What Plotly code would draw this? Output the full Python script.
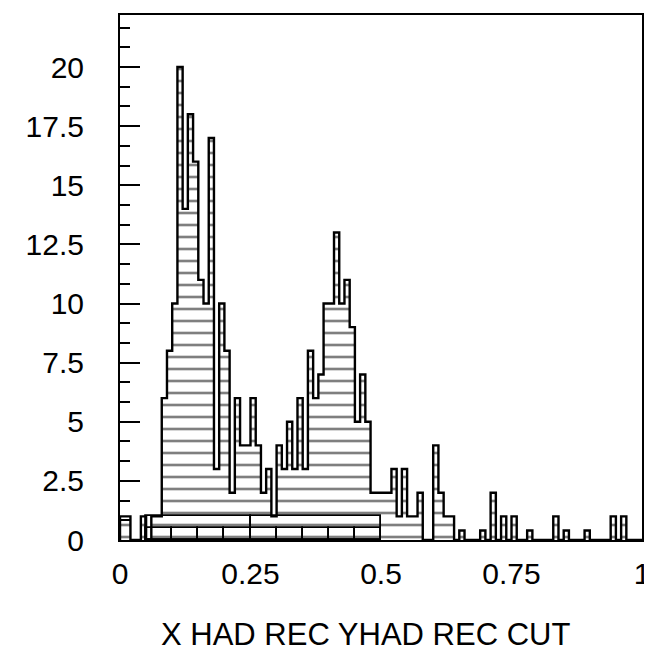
import plotly.graph_objects as go

# ---- data ----
bin_width = 0.01
bin_left = [i / 100 for i in range(100)]          # 100 bins on [0, 1]
counts = [
    1, 1, 0, 0, 1, 0, 1, 1, 6, 8,
    10, 20, 14, 18, 16, 11, 10, 17, 3, 10,
    8, 2, 6, 4, 4, 6, 4, 2, 3, 1,
    4, 3, 5, 3, 6, 3, 8, 6, 7, 10,
    10, 13, 10, 11, 9, 5, 7, 5, 2, 2,
    2, 2, 3, 1, 3, 1, 1, 2, 0, 0,
    4, 2, 1, 1, 0, 0.4, 0, 0, 0, 0.4,
    0, 2, 0, 1, 0, 1, 0, 0, 0.4, 0,
    0, 0, 0, 1, 0, 0.4, 0, 0, 0, 0.4,
    0, 0, 0, 0, 1, 0, 1, 0, 0, 0,
]

# coarse overlay boxes at the bottom
coarse_edges = [0.05, 0.10, 0.15, 0.20, 0.25, 0.30, 0.35, 0.40, 0.45, 0.50]
coarse_counts = [0.5, 0.5, 0.5, 0.5, 0.5, 0.5, 0.5, 0.5, 0.5]
wide_edges = [0.05, 0.25, 0.50]
wide_counts = [1, 1]

x_tickvals = [0, 0.25, 0.5, 0.75, 1]
x_ticktext = ["0", "0.25", "0.5", "0.75", "1"]
y_tickvals = [0, 2.5, 5, 7.5, 10, 12.5, 15, 17.5, 20]
y_ticktext = ["0", "2.5", "5", "7.5", "10", "12.5", "15", "17.5", "20"]
x_title = "X HAD REC YHAD REC CUT"

FONT = "Liberation Sans"

fig = go.Figure()

# coarse boxes (outlines only)
for edges, vals in ((coarse_edges, coarse_counts), (wide_edges, wide_counts)):
    mids = [(a + b) / 2 for a, b in zip(edges[:-1], edges[1:])]
    wids = [b - a for a, b in zip(edges[:-1], edges[1:])]
    fig.add_trace(go.Bar(
        x=mids, y=vals, width=wids,
        marker=dict(color="rgba(0,0,0,0)", line=dict(color="black", width=1.8)),
        showlegend=False, hoverinfo="skip",
    ))

# fine histogram: hatched step outline
xs = [bin_left[0]] + bin_left + [bin_left[-1] + bin_width]
ys = [0] + counts + [0]
fig.add_trace(go.Scatter(
    x=xs, y=ys, mode="lines", line=dict(shape="hv", color="black", width=2.4),
    fill="tozeroy", fillcolor="rgba(0,0,0,0)",
    fillpattern=dict(shape="-", fgcolor="black", bgcolor="rgba(0,0,0,0)",
                     size=12, solidity=0.22),
    showlegend=False, hoverinfo="skip",
))

fig.update_layout(
    width=652, height=651,
    margin=dict(l=112, r=18, t=5, b=119),
    paper_bgcolor="white", plot_bgcolor="white",
    barmode="overlay", bargap=0,
    font=dict(family=FONT, size=30, color="black"),
    showlegend=False,
    annotations=[dict(
        text=x_title, xref="paper", yref="paper",
        x=0.47, y=-0.18, xanchor="center", yanchor="middle",
        showarrow=False, font=dict(family=FONT, size=31, color="black"),
    )],
)

fig.update_xaxes(
    range=[0, 1.0], showgrid=False, zeroline=False,
    showline=True, mirror=True, linecolor="black", linewidth=2,
    ticks="", tickvals=x_tickvals, ticktext=x_ticktext,
    ticklabelstandoff=6, ticklabeloverflow="allow",
)
fig.update_yaxes(
    range=[0, 22.2], showgrid=False, zeroline=False,
    showline=True, mirror=True, linecolor="black", linewidth=2,
    ticks="inside", ticklen=20, tickwidth=2, tickcolor="black",
    tickvals=y_tickvals, ticktext=y_ticktext,
    ticklabelstandoff=28,
    minor=dict(ticks="inside", dtick=2.5 / 3, ticklen=10, tickwidth=2,
               tickcolor="black", showgrid=False),
)

fig.write_html("out.html")
